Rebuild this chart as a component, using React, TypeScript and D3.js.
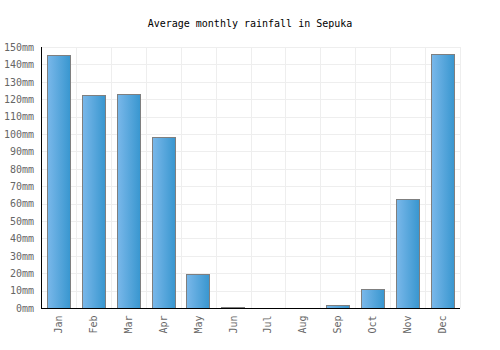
import * as d3 from 'd3';
import React, { useEffect, useRef } from 'react';

const months: string[] = ['Jan', 'Feb', 'Mar', 'Apr', 'May', 'Jun', 'Jul', 'Aug', 'Sep', 'Oct', 'Nov', 'Dec'];
const rainfall: number[] = [145.5, 122.5, 123, 98.5, 19.5, 0.6, 0, 0, 1.7, 11, 62.7, 146];
const yTicks: number[] = [0, 10, 20, 30, 40, 50, 60, 70, 80, 90, 100, 110, 120, 130, 140, 150];

const width = 500;
const height = 350;
const margin = { top: 47, right: 40, bottom: 42, left: 41 };
const font = '"DejaVu Sans Mono", monospace';

const RainChart: React.FC = () => {
  const ref = useRef<SVGSVGElement>(null);

  useEffect(() => {
    if (!ref.current) {
      return;
    }
    const svg = d3.select(ref.current);
    svg.selectAll('*').remove();

    const x = d3
      .scaleBand<string>()
      .domain(months)
      .range([margin.left, width - margin.right])
      .paddingInner(0.33)
      .paddingOuter(0.165);
    const y = d3
      .scaleLinear()
      .domain([0, 150])
      .range([height - margin.bottom, margin.top]);

    const defs = svg.append('defs');
    const grad = defs
      .append('linearGradient')
      .attr('id', 'barGrad')
      .attr('x1', '0%')
      .attr('x2', '100%')
      .attr('y1', '0%')
      .attr('y2', '0%');
    grad.append('stop').attr('offset', '0%').attr('stop-color', '#7ab8ea');
    grad.append('stop').attr('offset', '100%').attr('stop-color', '#3896cf');

    svg
      .append('text')
      .attr('x', width / 2)
      .attr('y', 27)
      .attr('text-anchor', 'middle')
      .style('font-family', font)
      .style('font-size', '10px')
      .style('fill', '#000')
      .text('Average monthly rainfall in Sepuka');

    // grid
    const step = x.step();
    const grid = svg.append('g').attr('stroke', '#eeeeee').attr('stroke-width', 1);
    grid
      .selectAll('line.h')
      .data(yTicks)
      .join('line')
      .attr('class', 'h')
      .attr('x1', margin.left)
      .attr('x2', width - margin.right)
      .attr('y1', (d) => Math.round(y(d)) + 0.5)
      .attr('y2', (d) => Math.round(y(d)) + 0.5);
    grid
      .selectAll('line.v')
      .data(d3.range(months.length + 1))
      .join('line')
      .attr('class', 'v')
      .attr('x1', (i) => Math.round(margin.left + i * step) + 0.5)
      .attr('x2', (i) => Math.round(margin.left + i * step) + 0.5)
      .attr('y1', margin.top)
      .attr('y2', height - margin.bottom);

    // bars
    svg
      .append('g')
      .selectAll('rect')
      .data(rainfall)
      .join('rect')
      .attr('x', (_, i) => Math.round(x(months[i]) ?? 0) + 0.5)
      .attr('y', (d) => Math.round(y(d)) + 0.5)
      .attr('width', Math.round(x.bandwidth()))
      .attr('height', (d) => Math.max(0, Math.round(y(0)) - Math.round(y(d))))
      .style('fill', 'url(#barGrad)')
      .style('stroke', '#7f7f7f')
      .style('stroke-width', 1);

    // axes
    const yAxis = svg
      .append('g')
      .attr('transform', `translate(${margin.left},0)`)
      .call(
        d3
          .axisLeft(y)
          .tickValues(yTicks)
          .tickSize(0)
          .tickPadding(7)
          .tickFormat((d) => `${d}mm`)
      );
    yAxis.select('.domain').attr('stroke', '#000').attr('d', `M0.5,${margin.top}V${Math.round(y(0)) + 0.5}`);
    yAxis
      .selectAll('text')
      .style('font-family', font)
      .style('font-size', '10px')
      .style('fill', '#666');

    const xAxis = svg
      .append('g')
      .attr('transform', `translate(0,${Math.round(y(0)) + 0.5})`)
      .call(d3.axisBottom(x).tickSize(0).tickPadding(0));
    xAxis.select('.domain').attr('stroke', '#000').attr('d', `M${margin.left},0H${width - margin.right}`);
    xAxis
      .selectAll('text')
      .attr('transform', 'rotate(-90)')
      .attr('x', -7)
      .attr('y', 0)
      .attr('dy', '0.35em')
      .attr('text-anchor', 'end')
      .style('font-family', font)
      .style('font-size', '10px')
      .style('fill', '#666');
  }, []);

  return <svg ref={ref} width={width} height={height} viewBox={`0 0 ${width} ${height}`}></svg>;
};

export default function App() {
  return (
    <div style={{ position: 'absolute', left: 0, top: 0 }}>
      <RainChart />
    </div>
  );
}
